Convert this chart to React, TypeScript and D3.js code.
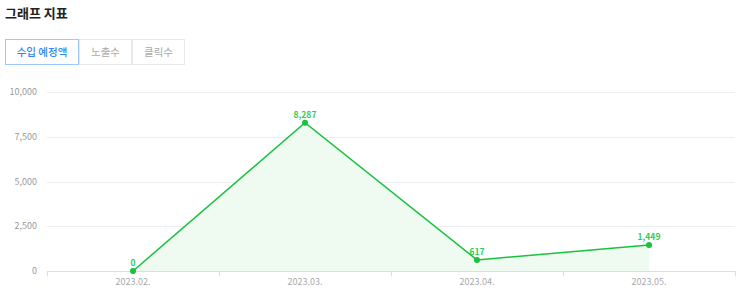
import React from "react";
import * as d3 from "d3";

const categories = ["2023.02.", "2023.03.", "2023.04.", "2023.05."];
const values = [0, 8287, 617, 1449];
const yTicks = [0, 2500, 5000, 7500, 10000];
const tabs = ["수입 예정액", "노출수", "클릭수"];
const title = "그래프 지표";

const W = 743;
const H = 305;
const font = "'Noto Sans CJK KR', 'Noto Sans', sans-serif";

export default function App() {
  const left = 47, right = 735, top = 92, bottom = 271;
  const x = d3.scaleBand<string>().domain(categories).range([left, right]);
  const y = d3.scaleLinear().domain([0, 10000]).range([bottom, top]);
  const cx = (c: string) => (x(c) as number) + x.bandwidth() / 2;
  const pts: [number, number][] = values.map((v, i) => [cx(categories[i]), y(v)]);
  const line = d3.line<[number, number]>().x(d => d[0]).y(d => d[1]);
  const area = d3.area<[number, number]>().x(d => d[0]).y0(y(0)).y1(d => d[1]);
  const fmt = d3.format(",");
  const tabW = [74, 53, 53];
  let tx = 5;
  const tabPos = tabW.map(w => { const p = tx; tx += w; return p; });
  const green = "#17c23f";

  return (
    <svg width={W} height={H} style={{ position: "absolute", left: 0, top: 0, fontFamily: font }}>
      <text x={5} y={18} fontSize={13} fontWeight={700} fill="#222">{title}</text>
      {tabs.map((t, i) => (
        <g key={t}>
          <rect x={tabPos[i] + 0.5} y={39.5} width={tabW[i] - 1} height={25} fill="#fff"
            stroke={i === 0 ? "#9cc7ff" : "#e6e8ec"} strokeWidth={1} />
          <text x={tabPos[i] + tabW[i] / 2} y={55.5} textAnchor="middle" fontSize={10.5}
            fontWeight={i === 0 ? 500 : 400}
            fill={i === 0 ? "#2f86f6" : "#aaaaaa"}>{t}</text>
        </g>
      ))}
      {yTicks.map(t => (
        <g key={t}>
          {t !== 0 && <line x1={left} x2={right} y1={Math.round(y(t)) + 0.5} y2={Math.round(y(t)) + 0.5} stroke="#eceef1" />}
          <text x={37} y={y(t) + 3} textAnchor="end" fontSize={9} fill="#999">{fmt(t)}</text>
        </g>
      ))}
      <path d={area(pts) || ""} fill="#effaf1" />
      <line x1={left} x2={right} y1={bottom + 0.5} y2={bottom + 0.5} stroke="#d8dde6" />
      {[...categories.map(c => x(c) as number), right].map((p, i) => (
        <line key={i} x1={Math.round(p) + 0.5} x2={Math.round(p) + 0.5} y1={bottom} y2={bottom + 5} stroke="#d8dde6" />
      ))}
      {categories.map(c => (
        <text key={c} x={cx(c)} y={bottom + 14} textAnchor="middle" fontSize={9} fill="#aaa">{c}</text>
      ))}
      <path d={line(pts) || ""} fill="none" stroke={green} strokeWidth={1.5} />
      {pts.map((p, i) => (
        <g key={i}>
          <circle cx={p[0]} cy={p[1]} r={3} fill={green} />
          <text x={p[0]} y={p[1] - 5} textAnchor="middle" fontSize={8.5} fontWeight={700} fill="#2ecc52">{fmt(values[i])}</text>
        </g>
      ))}
    </svg>
  );
}
